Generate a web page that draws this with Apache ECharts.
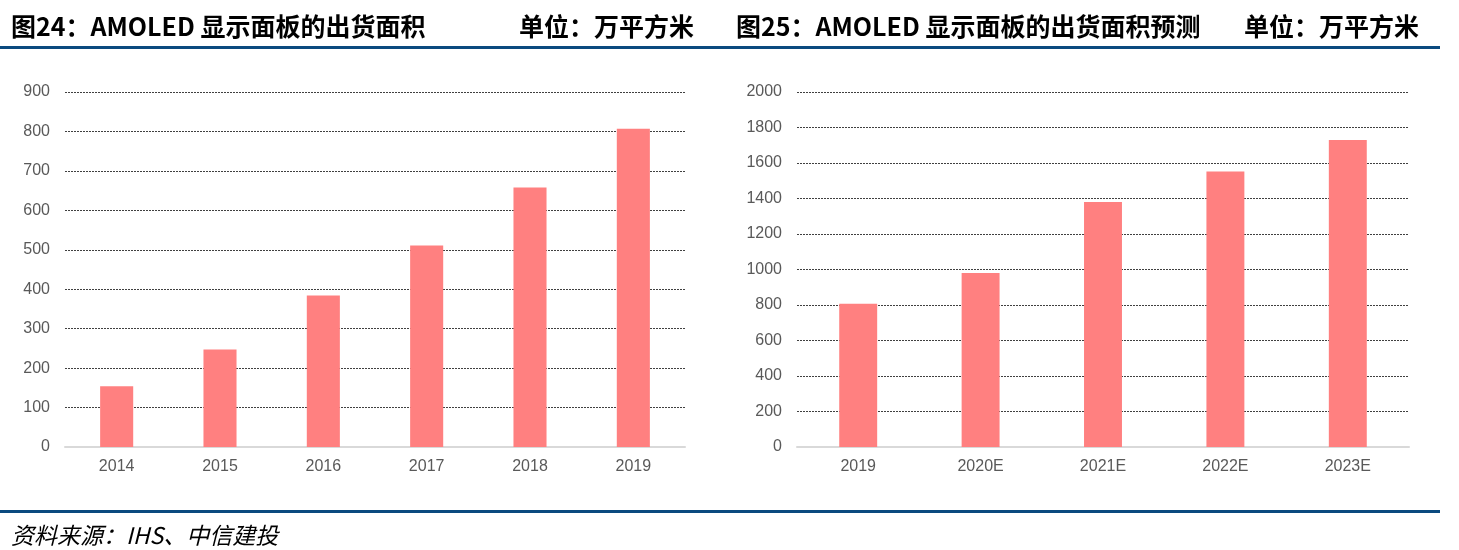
<!DOCTYPE html>
<html><head><meta charset="utf-8">
<script src="https://cdn.jsdelivr.net/npm/echarts@6/dist/echarts.min.js"></script>
<style>html,body{margin:0;padding:0;background:#fff}#c{width:1459px;height:550px}</style>
</head><body><div id="c"></div>
<script>
var leftCategories = ['2014','2015','2016','2017','2018','2019'];
var leftValues = [154, 247, 384, 511, 658, 807];
var rightCategories = ['2019','2020E','2021E','2022E','2023E'];
var rightValues = [807, 980, 1380, 1552, 1730];
var leftTitle = '图24：AMOLED 显示面板的出货面积';
var rightTitle = '图25：AMOLED 显示面板的出货面积预测';
var unitText = '单位：万平方米';
var sourceText = '资料来源：IHS、中信建投';

var barColor = '#FF8080';
var labelStyle = {color:'#595959', fontSize:16, fontFamily:'Liberation Sans, Arial, sans-serif'};
var titleFont = {fontSize:25, fontWeight:'bold', color:'#000', fontFamily:'"Noto Sans CJK SC", sans-serif'};

function yAxis(idx, max, interval){
  return {type:'value', gridIndex:idx, min:0, max:max, interval:interval,
    axisLine:{show:false}, axisTick:{show:false},
    axisLabel:Object.assign({margin:15, formatter:function(v){return String(v);}}, labelStyle),
    splitLine:{lineStyle:{color:'#404040', width:1, type:[2,1]}}};
}
function xAxis(idx, cats){
  return {type:'category', gridIndex:idx, data:cats,
    axisLine:{lineStyle:{color:'#d9d9d9', width:2}}, axisTick:{show:false},
    axisLabel:Object.assign({margin:12}, labelStyle)};
}
var chart = echarts.init(document.getElementById('c'));
chart.setOption({
  animation:false,
  backgroundColor:'#fff',
  title:[
    {text:leftTitle, left:6, top:9, textStyle:titleFont},
    {text:unitText, left:514, top:9, textStyle:titleFont},
    {text:rightTitle, left:731, top:9, textStyle:titleFont},
    {text:unitText, left:1239, top:9, textStyle:titleFont},
    {text:sourceText, left:6, top:519, textStyle:{fontSize:23, fontStyle:'italic', fontWeight:'normal', color:'#000', fontFamily:'"Noto Sans CJK SC", sans-serif'}}
  ],
  graphic:[
    {type:'rect', shape:{x:0, y:46, width:1440, height:3}, style:{fill:'#0B4A7F'}},
    {type:'rect', shape:{x:0, y:510, width:1440, height:3}, style:{fill:'#0B4A7F'}}
  ],
  grid:[
    {left:65, right:774, top:92, bottom:103},
    {left:797, right:50, top:92, bottom:103}
  ],
  xAxis:[xAxis(0,leftCategories), xAxis(1,rightCategories)],
  yAxis:[yAxis(0,900,100), yAxis(1,2000,200)],
  series:[
    {type:'bar', xAxisIndex:0, yAxisIndex:0, data:leftValues, barWidth:'32%', itemStyle:{color:barColor}},
    {type:'bar', xAxisIndex:1, yAxisIndex:1, data:rightValues, barWidth:'31%', itemStyle:{color:barColor}}
  ]
});
</script></body></html>
